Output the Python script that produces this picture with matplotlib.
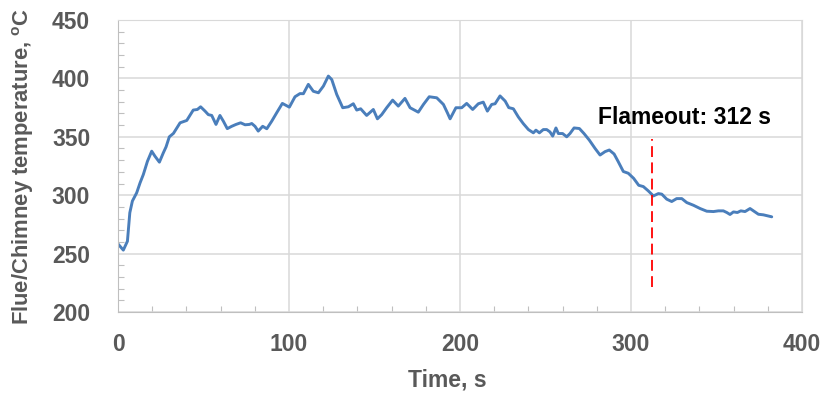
import matplotlib
matplotlib.use("Agg")
import matplotlib.pyplot as plt
from matplotlib.ticker import MultipleLocator

# =============================================================================
# flue gas temperature record
# =============================================================================
time_s = [
    0, 3.1, 5.5, 6.9, 8.4, 10.9, 12.9, 14.8, 17.2, 19.7, 21.6, 24.2, 26.5,
    28.1, 30, 32.4, 36.3, 40.2, 44, 46.4, 48.3, 50.9, 52.8, 54.8, 57.3, 59.6,
    61.6, 63.9, 66.5, 69, 71.7, 74.3, 76.8, 78.2, 80.1, 82, 84.6, 87, 89.9,
    92.8, 96.1, 100.2, 103.5, 106.4, 108.4, 111.3, 114.2, 117.2, 120.1, 123,
    125, 127.9, 131.4, 134.7, 137.6, 139.6, 141.9, 145.4, 149.3, 151.7, 154.2,
    157.1, 160.6, 163.9, 167.8, 170.8, 175.6, 178.6, 182, 186.4, 190.3, 192.6,
    194.2, 197.6, 201, 203.9, 207.4, 210.7, 213.6, 216, 218.5, 220.5, 223.4,
    226.4, 228.5, 231.2, 234.1, 237, 240, 242.9, 244.4, 246.4, 248.7, 250.7,
    252.6, 254.2, 256.1, 257.5, 260, 262.4, 264.3, 266.7, 269.8, 272.5, 275.6,
    279, 281.9, 284.8, 287.3, 290.1, 292.5, 295.5, 298.4, 301.5, 304.5, 307.2,
    310.1, 313.1, 316, 318, 320.9, 323.8, 326.7, 329.7, 332.6, 336.5, 340.4,
    344.3, 348.2, 351.1, 354, 356, 357.9, 359.9, 362.2, 364.2, 366.7, 369.6,
    371.6, 374.5, 377.4, 382.3,
]
temp_c = [
    258.3, 253, 260.6, 285, 295, 302, 310.6, 317.7, 329, 337.7, 333.4, 328.3,
    336.3, 341.4, 350, 352.9, 362, 364, 372.9, 373.4, 375.7, 372, 369, 368.3,
    360.6, 368.3, 363.4, 357, 359, 360.6, 362, 360.3, 360.6, 361.4, 359, 354.9,
    359, 356.9, 363.4, 370.6, 378.6, 375.4, 384.3, 387, 386.9, 394.9, 389,
    387.7, 393.4, 402, 399, 386.3, 374.9, 375.7, 378.3, 372.9, 374, 368.3,
    373.4, 365.4, 369, 374.9, 381.4, 376.3, 382.9, 374.9, 371.1, 377.7, 384.3,
    383.4, 377.7, 370.6, 365.4, 374.9, 374.9, 378.6, 373.4, 378.3, 379.7, 372,
    377.7, 378.3, 385, 380.6, 375, 374, 367, 361.3, 356.2, 353.4, 355.7, 353.4,
    356.2, 356.2, 354.2, 350.6, 357.6, 352.8, 352.8, 350, 352.8, 357.6, 357.1,
    352.8, 347.2, 340, 334.4, 337.3, 338.7, 335.3, 328.8, 320.3, 318.8, 314.5,
    308.5, 307.4, 303.7, 299.4, 301.4, 300.9, 296.6, 294.6, 297.1, 297.1, 293.7,
    291.4, 288.6, 286.3, 286, 286.6, 286.6, 285.2, 283.5, 285.7, 285.2, 286.6,
    286, 288.6, 286.6, 283.7, 283.2, 281.5,
]

flameout_s = 312
flameout_line = [221, 348]

x_ticks = [0, 100, 200, 300, 400]
y_ticks = [200, 250, 300, 350, 400, 450]

# =============================================================================
plt.rcParams["font.family"] = ["Liberation Sans", "DejaVu Sans"]
plt.rcParams["font.weight"] = "bold"
plt.rcParams["mathtext.fontset"] = "custom"
plt.rcParams["mathtext.bf"] = "Liberation Sans:bold"
plt.rcParams["mathtext.rm"] = "Liberation Sans:bold"

label_color = "#595959"

fig = plt.figure(figsize=(8.23, 3.94), dpi=100)
ax = fig.add_axes([0.1434, 0.2081, 0.8311, 0.7411])

ax.plot(time_s, temp_c, color="#4a7ebb", lw=2.1, solid_joinstyle="round",
        solid_capstyle="round")
ax.plot([flameout_s, flameout_s], flameout_line, color="red", lw=1.3,
        dashes=(6, 3))
ax.text(280.5, 366.5, "Flameout: %d s" % flameout_s, fontsize=16.5,
        fontweight="bold", color="black", va="center", ha="left")

ax.set_xlim(x_ticks[0], x_ticks[-1])
ax.set_ylim(y_ticks[0], y_ticks[-1])
ax.set_xticks(x_ticks)
ax.set_yticks(y_ticks)
ax.xaxis.set_minor_locator(MultipleLocator(20))
ax.yaxis.set_minor_locator(MultipleLocator(10))

ax.grid(True, which="major", color="#d9d9d9", lw=1.1)
ax.set_axisbelow(True)
ax.tick_params(which="both", direction="in", color="#bfbfbf",
               labelcolor=label_color, labelsize=16.5)
ax.tick_params(which="major", length=0)
ax.tick_params(which="minor", length=4, width=0.8)
ax.tick_params(axis="x", which="major", pad=15)
ax.tick_params(axis="y", which="major", pad=20)

for side in ["top", "right"]:
    ax.spines[side].set_color("#d9d9d9")
for side in ["left", "bottom"]:
    ax.spines[side].set_color("#bfbfbf")

ax.set_xlabel("Time, s", fontsize=16.5, fontweight="bold", color=label_color)
ax.set_ylabel(r"Flue/Chimney temperature, $^{\mathbf{o}}$C", fontsize=15.8,
              fontweight="bold", color=label_color)
ax.xaxis.set_label_coords(0.481, -0.195)
ax.yaxis.set_label_coords(-0.12, 0.5)

fig.savefig("out.png", dpi=100)
